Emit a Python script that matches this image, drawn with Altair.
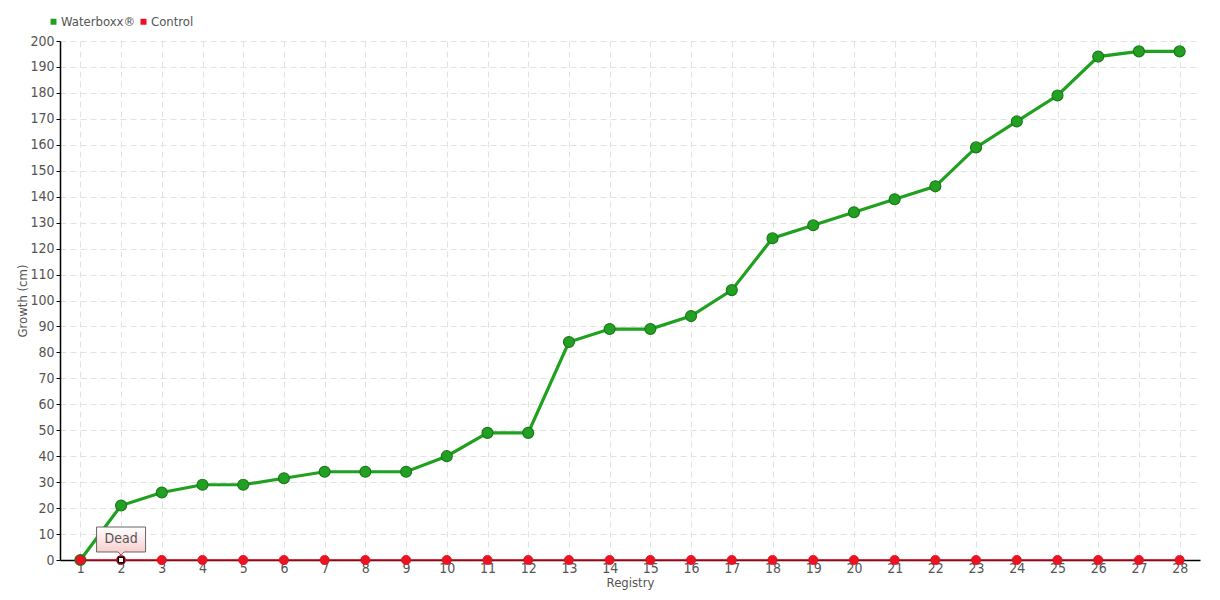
import altair as alt
import pandas as pd

registry = list(range(1, 29))
waterboxx = [0, 21, 26, 29, 29, 31.5, 34, 34, 34, 40, 49, 49, 84, 89, 89, 94,
             104, 124, 129, 134, 139, 144, 159, 169, 179, 194, 196, 196]
control = [0] * 28
series_names = ["Waterboxx®", "Control"]
series_colors = ["#22a022", "#ee1122"]
tooltip_reg = [2]
tooltip_text = ["Dead"]

FONT = "DejaVu Sans Condensed, Liberation Sans Narrow, DejaVu Sans, sans-serif"

wdf = pd.DataFrame({"Registry": registry, "Growth": waterboxx, "series": series_names[0]})
cdf = pd.DataFrame({"Registry": registry, "Growth": control, "series": series_names[1]})
tdf = pd.DataFrame({"Registry": tooltip_reg, "Growth": [0], "label": tooltip_text})

xs = alt.Scale(domain=[0.5, 28.5], nice=False, zero=False)
ys = alt.Scale(domain=[0, 200], nice=False)

X = alt.X("Registry:Q", scale=xs, title="Registry",
          axis=alt.Axis(values=registry, format="d", ticks=False, labelPadding=1,
                        titlePadding=1, gridDash=[6, 4], gridColor="#e2e2e2"))
Y = alt.Y("Growth:Q", scale=ys, title="Growth (cm)",
          axis=alt.Axis(values=list(range(0, 201, 10)), tickSize=4, labelPadding=2,
                        titlePadding=0, gridDash=[6, 4], gridColor="#e2e2e2"))

fill_enc = alt.Fill("series:N", scale=alt.Scale(domain=series_names, range=series_colors),
                    legend=alt.Legend(title=None, orient="none", legendX=-13, legendY=-26,
                                      direction="horizontal", symbolType="square",
                                      symbolSize=36, symbolStrokeWidth=0,
                                      labelFontSize=13, labelColor="#555555",
                                      labelFont=FONT, columnPadding=1, labelOffset=1,
                                      padding=0))

g_line = alt.Chart(wdf).mark_line(color="#1fa01f", strokeWidth=3.2).encode(x=X, y=Y)
g_pts = alt.Chart(wdf).mark_point(filled=True, size=120, stroke="#1a7a1a", strokeWidth=1.2,
                                  opacity=1).encode(x=X, y=Y, fill=fill_enc)
r_line = alt.Chart(cdf).mark_line(color="#d80018", strokeWidth=1.5).encode(x=X, y=Y)
r_pts = alt.Chart(cdf).mark_point(filled=True, size=85, stroke="#d0101e", strokeWidth=0.8,
                                  opacity=1).encode(x=X, y=Y, fill=fill_enc)

hover = alt.Chart(tdf).mark_point(shape="square", size=30, fill="white", stroke="black",
                                  strokeWidth=1.5, opacity=1, filled=False).encode(x=X, y=Y)
box = alt.Chart(tdf).mark_point(
    shape="M-1,-0.51 L1,-0.51 L1,0.51 L0.12,0.51 L0,0.64 L-0.12,0.51 L-1,0.51 Z",
    size=2401, yOffset=-20.5, stroke="#666666", strokeWidth=1, opacity=1,
    fill=alt.Gradient(gradient="linear", x1=0, y1=0, x2=0, y2=1,
                      stops=[alt.GradientStop(offset=0, color="#ffffff"),
                             alt.GradientStop(offset=1, color="#f8c8c8")]),
).encode(x=X, y=Y)
txt = alt.Chart(tdf).mark_text(fontSize=14, color="#555555", font=FONT, yOffset=-21,
                               baseline="middle").encode(x=X, y=Y, text="label:N")

chart = alt.layer(g_line, g_pts, r_line, r_pts, hover, box, txt).properties(
    width=1140, height=519,
    autosize=alt.AutoSizeParams(type="none"),
    padding={"left": 52, "top": 33, "right": 4, "bottom": 30},
).configure_axis(
    domainColor="#000000", domainWidth=1.5, tickColor="#000000",
    labelFont=FONT, labelFontSize=14, labelColor="#555555",
    titleFont=FONT, titleFontSize=13, titleColor="#555555", titleFontWeight="normal",
).configure_view(stroke=None)

chart.save("out.html", embed_options={"renderer": "svg", "actions": False})
